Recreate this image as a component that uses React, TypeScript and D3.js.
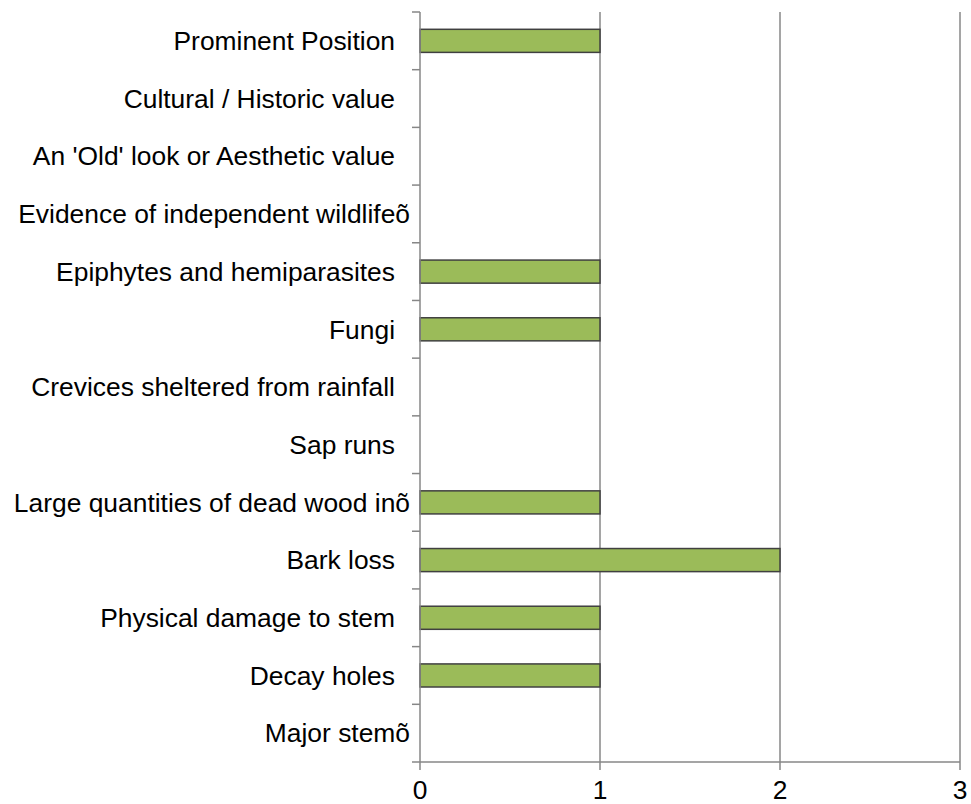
import React, { useEffect, useRef } from "react";
import * as d3 from "d3";

// categories top to bottom
const categories = [
  "Prominent Position",
  "Cultural / Historic value",
  "An 'Old' look or Aesthetic value",
  "Evidence of independent wildlifeõ",
  "Epiphytes and hemiparasites",
  "Fungi",
  "Crevices sheltered from rainfall",
  "Sap runs",
  "Large quantities of dead wood inõ",
  "Bark loss",
  "Physical damage to stem",
  "Decay holes",
  "Major stemõ",
];
const values = [1, 0, 0, 0, 1, 1, 0, 0, 1, 2, 1, 1, 0];
const xTicks = [0, 1, 2, 3];

const App: React.FC = () => {
  const svgRef = useRef<SVGSVGElement | null>(null);
  const width = 971;
  const height = 804;

  useEffect(() => {
    const svg = d3.select(svgRef.current);
    svg.selectAll("*").remove();

    const margin = { top: 12, right: 11, bottom: 42, left: 420 };
    const innerW = width - margin.left - margin.right;
    const innerH = height - margin.top - margin.bottom;

    const g = svg
      .append("g")
      .attr("transform", `translate(${margin.left},${margin.top})`);

    const x = d3.scaleLinear().domain([0, 3]).range([0, innerW]);
    const y = d3.scaleBand<string>().domain(categories).range([0, innerH]).padding(0);

    const grey = "#878787";
    const font = "'Liberation Sans', Arial, sans-serif";
    const fontSize = 26.4;

    // gridlines
    g.selectAll("line.grid")
      .data(xTicks.filter((t) => t > 0))
      .enter()
      .append("line")
      .attr("x1", (d) => x(d))
      .attr("x2", (d) => x(d))
      .attr("y1", 0)
      .attr("y2", innerH)
      .attr("stroke", grey)
      .attr("stroke-width", 1.5);

    // bars
    const barH = y.bandwidth() * 0.4;
    g.selectAll("rect.bar")
      .data(categories.map((c, i) => ({ c, v: values[i] })).filter((d) => d.v > 0))
      .enter()
      .append("rect")
      .attr("x", x(0))
      .attr("y", (d) => y(d.c)! + (y.bandwidth() - barH) / 2)
      .attr("width", (d) => x(d.v) - x(0))
      .attr("height", barH)
      .attr("fill", "#9BBB59")
      .attr("stroke", "#404040")
      .attr("stroke-width", 1.5);

    // y axis line + ticks at band edges
    g.append("line")
      .attr("x1", 0)
      .attr("x2", 0)
      .attr("y1", 0)
      .attr("y2", innerH)
      .attr("stroke", grey)
      .attr("stroke-width", 1.5);

    const edges = categories.map((c) => y(c)!).concat([innerH]);
    g.selectAll("line.ytick")
      .data(edges)
      .enter()
      .append("line")
      .attr("x1", -8)
      .attr("x2", 0)
      .attr("y1", (d) => d)
      .attr("y2", (d) => d)
      .attr("stroke", grey)
      .attr("stroke-width", 1.5);

    // category labels
    g.selectAll("text.ylab")
      .data(categories)
      .enter()
      .append("text")
      .attr("x", (d) => (d.endsWith("õ") ? -10 : -25))
      .attr("y", (d) => y(d)! + y.bandwidth() / 2)
      .attr("dy", "0.35em")
      .attr("text-anchor", "end")
      .attr("font-family", font)
      .attr("font-size", fontSize)
      .attr("fill", "#000")
      .text((d) => d);

    // x axis
    g.append("line")
      .attr("x1", 0)
      .attr("x2", innerW)
      .attr("y1", innerH)
      .attr("y2", innerH)
      .attr("stroke", grey)
      .attr("stroke-width", 1.5);

    g.selectAll("line.xtick")
      .data(xTicks)
      .enter()
      .append("line")
      .attr("x1", (d) => x(d))
      .attr("x2", (d) => x(d))
      .attr("y1", innerH)
      .attr("y2", innerH + 8)
      .attr("stroke", grey)
      .attr("stroke-width", 1.5);

    g.selectAll("text.xlab")
      .data(xTicks)
      .enter()
      .append("text")
      .attr("x", (d) => x(d))
      .attr("y", innerH + 28)
      .attr("dy", "0.35em")
      .attr("text-anchor", "middle")
      .attr("font-family", font)
      .attr("font-size", fontSize)
      .attr("fill", "#000")
      .text((d) => String(d));
  }, []);

  return (
    <svg
      ref={svgRef}
      width={width}
      height={height}
      style={{ position: "absolute", left: 0, top: 0, background: "#fff" }}
    />
  );
};

export default App;
